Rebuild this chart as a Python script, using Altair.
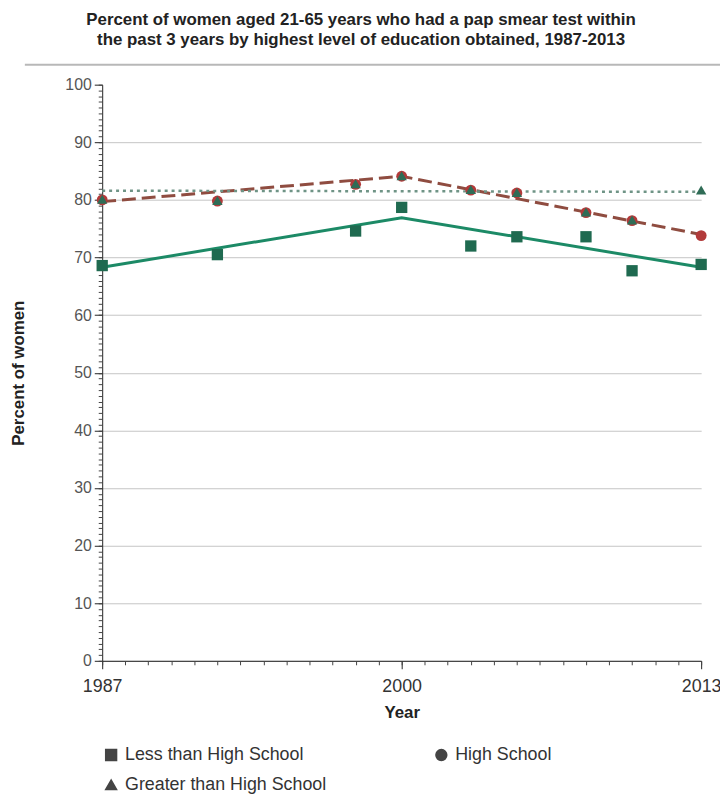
import altair as alt
import pandas as pd

# ---- data ----
years = [1987, 1992, 1998, 2000, 2003, 2005, 2008, 2010, 2013]
less_hs = [68.6, 70.5, 74.6, 78.7, 72.0, 73.6, 73.6, 67.7, 68.8]
high_school = [80.0, 79.8, 82.7, 84.1, 81.7, 81.2, 77.8, 76.4, 73.8]
greater_hs = [80.1, 79.9, 82.8, 84.2, 81.8, 81.3, 77.9, 76.5, 81.7]

trend_years = [1987, 2000, 2013]
less_trend = [68.3, 76.9, 68.3]
hs_trend = [79.7, 84.1, 74.0]
gt_trend_years = [1987, 2013]
gt_trend = [81.6, 81.4]

series = ["Less than High School", "High School", "Greater than High School"]
series_keys = ["1", "2", "3"]
minor_years = list(range(1987, 2014))
y_major = list(range(0, 101, 10))
y_minor = list(range(0, 101, 1))

title_lines = [
    "Percent of women aged 21-65 years who had a pap smear test within",
    "the past 3 years by highest level of education obtained, 1987-2013",
]

# ---- tables ----
n = len(years)
pts = pd.DataFrame(
    {
        "Year": years * 3,
        "Percent": less_hs + high_school + greater_hs,
        "Group": [series[0]] * n + [series[1]] * n + [series[2]] * n,
        "ck": [series_keys[0]] * n + [series_keys[1]] * n + [series_keys[2]] * n,
    }
)
t_less = pd.DataFrame({"Year": trend_years, "Percent": less_trend})
t_hs = pd.DataFrame({"Year": trend_years, "Percent": hs_trend})
t_gt = pd.DataFrame({"Year": gt_trend_years, "Percent": gt_trend})

FONT = "Liberation Sans"
xscale = alt.Scale(domain=[1987, 2013], nice=False, zero=False)
yscale = alt.Scale(domain=[0, 100], nice=False)

major_x = alt.Axis(
    orient="bottom", values=trend_years, format="d", title="Year",
    tickSize=8, labelPadding=9, labelFontSize=18, labelColor="#333",
    labelFont=FONT, titleFont=FONT, titleFontSize=17, titleFontWeight="bold",
    titleColor="#222", titlePadding=9, domainColor="#222", tickColor="#222",
    grid=False, labelFlush=False,
)
major_y = alt.Axis(
    orient="left", values=y_major, title="Percent of women",
    tickSize=8, labelPadding=3, labelFontSize=16, labelColor="#555",
    labelFont=FONT, titleFont=FONT, titleFontSize=17, titleFontWeight="bold",
    titleColor="#222", titlePadding=38, domainColor="#222", tickColor="#222",
    grid=True, gridColor="#c4c4c4", gridWidth=1,
    gridOpacity={"condition": {"test": "datum.value == 100", "value": 0}, "value": 1},
)
minor_x = alt.Axis(
    orient="bottom", values=minor_years, labels=False, title=None, tickSize=4,
    domain=False, grid=False, tickColor="#444",
)
minor_y = alt.Axis(
    orient="left", values=y_minor, labels=False, title=None, tickSize=4,
    domain=False, grid=False, tickColor="#444",
)

line_less = alt.Chart(t_less).mark_line(color="#1c8a66", strokeWidth=3).encode(
    x=alt.X("Year:Q", scale=xscale, axis=major_x),
    y=alt.Y("Percent:Q", scale=yscale, axis=major_y),
)
line_hs = alt.Chart(t_hs).mark_line(color="#8f4c40", strokeWidth=3, strokeDash=[14, 6]).encode(
    x=alt.X("Year:Q", scale=xscale, axis=None),
    y=alt.Y("Percent:Q", scale=yscale, axis=None),
)
line_gt = alt.Chart(t_gt).mark_line(color="#6f9486", strokeWidth=2.5, strokeDash=[3, 4]).encode(
    x=alt.X("Year:Q", scale=xscale, axis=None),
    y=alt.Y("Percent:Q", scale=yscale, axis=None),
)

points = alt.Chart(pts).mark_point(filled=True, opacity=1).encode(
    x=alt.X("Year:Q", scale=xscale, axis=minor_x),
    y=alt.Y("Percent:Q", scale=yscale, axis=minor_y),
    color=alt.Color(
        "ck:N",
        scale=alt.Scale(range=["#1f6a50", "#b23a3a", "#2f6c56"]),
        legend=None,
    ),
    size=alt.Size(
        "ck:N",
        scale=alt.Scale(range=[130, 110, 165]),
        legend=None,
    ),
    shape=alt.Shape(
        "Group:N",
        sort=series,
        scale=alt.Scale(domain=series, range=["square", "circle", "triangle-up"]),
        legend=alt.Legend(
            title=None, orient="none", legendX=0, legendY=667, columns=2,
            direction="horizontal", columnPadding=106, rowPadding=12,
            labelFont=FONT, labelFontSize=18, labelColor="#333", labelLimit=400,
            symbolFillColor="#444", symbolStrokeColor="#444", symbolSize=120,
            symbolOffset=0, labelOffset=5, padding=0,
        ),
    ),
)

sep = alt.Chart(pd.DataFrame({"k": [0]})).mark_rule(color="#b8b8b8", strokeWidth=2).encode(
    x=alt.value(-78), x2=alt.value(625), y=alt.value(-20)
)

chart = (
    alt.layer(line_less, line_hs, line_gt, points, sep)
    .resolve_axis(x="independent", y="independent")
    .properties(
        width=604,
        height=581,
        autosize=alt.AutoSizeParams(type="none"),
        padding={"left": 95, "top": 74, "right": 19, "bottom": 131},
        title=alt.TitleParams(
            text=title_lines, fontSize=17, fontWeight="bold", font=FONT,
            color="#222", anchor="middle", dx=-41, offset=15, lineHeight=20,
        ),
    )
    .configure_view(stroke=None)
)

chart.save("out.html", embed_options={"renderer": "svg", "actions": False})
